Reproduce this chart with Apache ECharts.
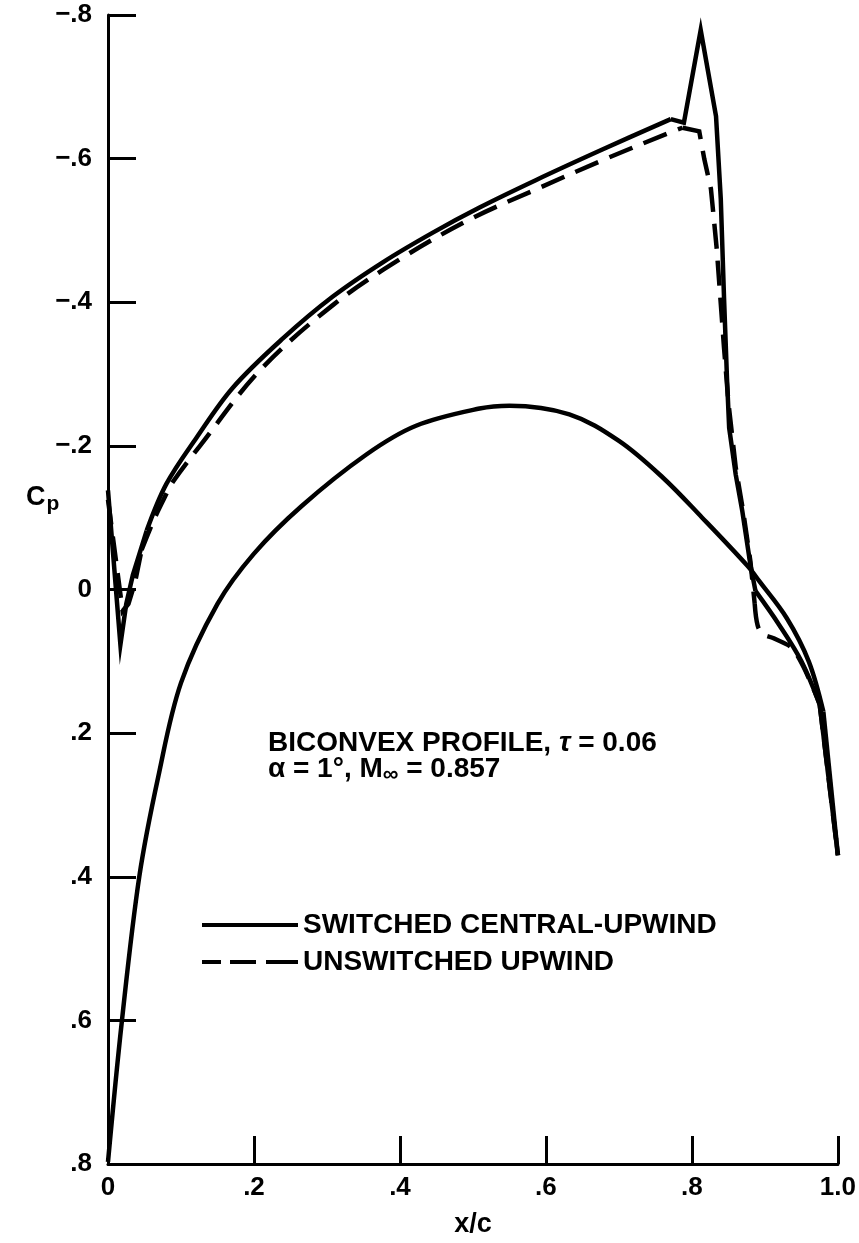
<!DOCTYPE html>
<html>
<head>
<meta charset="utf-8">
<script src="https://cdn.jsdelivr.net/npm/echarts@6/dist/echarts.min.js"></script>
<style>
html,body{margin:0;padding:0;background:#fff;}
#chart{width:859px;height:1243px;}
</style>
</head>
<body>
<div id="chart"></div>
<script>
// ---- data ----
var xTickLabels = ['0', '.2', '.4', '.6', '.8', '1.0'];
var yTickLabels = ['\u2212.8', '\u2212.6', '\u2212.4', '\u2212.2', '0', '.2', '.4', '.6', '.8'];

var seriesNames = ['SWITCHED CENTRAL-UPWIND', 'UNSWITCHED UPWIND'];

// upper surface, switched central-upwind (solid)
var upperSolidX  = [0, 0.017, 0.025, 0.034, 0.053, 0.080, 0.121, 0.171, 0.240, 0.308, 0.377, 0.445, 0.509, 0.586, 0.678, 0.771, 0.789, 0.812, 0.833, 0.8395, 0.844, 0.848, 0.851, 0.860, 0.869, 0.880, 0.887, 0.920, 0.950, 0.975, 1.0];
var upperSolidCp = [-0.138, 0.077, 0.020, -0.020, -0.082, -0.147, -0.211, -0.281, -0.350, -0.408, -0.456, -0.497, -0.532, -0.570, -0.613, -0.655, -0.650, -0.779, -0.659, -0.544, -0.405, -0.294, -0.225, -0.160, -0.109, -0.035, 0.002, 0.050, 0.100, 0.160, 0.370];
// index ranges of the smooth / straight pieces of the curve
var upperSolidPieces = [[0, 4, false], [4, 15, true], [15, 26, false], [26, 29, true], [29, 30, false]];

// upper surface, unswitched upwind (dashed)
var upperDashX  = [0, 0.020, 0.028, 0.037, 0.046, 0.062, 0.076, 0.089, 0.126, 0.208, 0.308, 0.400, 0.495, 0.586, 0.678, 0.769, 0.787, 0.810, 0.817, 0.826, 0.834, 0.844, 0.850, 0.860, 0.870, 0.880, 0.886, 0.890, 0.897, 0.912, 0.940, 0.975, 1.0];
var upperDashCp = [-0.125, 0.030, 0.020, -0.010, -0.055, -0.095, -0.125, -0.150, -0.200, -0.305, -0.396, -0.460, -0.515, -0.557, -0.598, -0.636, -0.643, -0.638, -0.599, -0.558, -0.474, -0.336, -0.260, -0.170, -0.110, -0.040, 0.020, 0.050, 0.062, 0.068, 0.085, 0.160, 0.370];
var upperDashPieces = [[0, 4, false], [4, 16, true], [16, 26, false], [26, 31, true], [31, 32, false]];

// lower surface (solid)
var lowerX  = [0, 0.0187, 0.043, 0.069, 0.100, 0.150, 0.200, 0.265, 0.354, 0.422, 0.509, 0.550, 0.632, 0.700, 0.760, 0.814, 0.876, 0.892, 0.930, 0.960, 0.980, 1.0];
var lowerCp = [0.797, 0.604, 0.399, 0.260, 0.130, 0.020, -0.050, -0.116, -0.188, -0.228, -0.252, -0.256, -0.244, -0.207, -0.156, -0.100, -0.033, -0.012, 0.040, 0.100, 0.170, 0.370];
var lowerPieces = [[0, 20, true], [20, 21, false]];

function pairs(xs, ys, a, b) {
  var out = [];
  for (var i = a; i <= b; i++) out.push([xs[i], ys[i]]);
  return out;
}

var FONT = '"Liberation Sans", Arial, Helvetica, sans-serif';
var chart = echarts.init(document.getElementById('chart'));

var series = [];
function addPieces(name, xs, ys, pieces, lineType) {
  pieces.forEach(function (p) {
    series.push({
      name: name, type: 'line', symbol: 'none', showSymbol: false,
      smooth: p[2] ? 0.35 : false,
      data: pairs(xs, ys, p[0], p[1]),
      lineStyle: { color: '#000', width: 4.5, type: lineType, cap: 'butt', join: 'miter' },
      itemStyle: { color: '#000' }
    });
  });
}
addPieces(seriesNames[0], upperSolidX, upperSolidCp, upperSolidPieces, 'solid');
addPieces(seriesNames[0], lowerX, lowerCp, lowerPieces, 'solid');
addPieces(seriesNames[1], upperDashX, upperDashCp, upperDashPieces, [25, 12]);

var option = {
  backgroundColor: '#fff',
  animation: false,
  grid: { left: 108, right: 20, top: 15, bottom: 73 },
  xAxis: {
    type: 'value', min: 0, max: 1, interval: 0.2,
    name: 'x/c', nameLocation: 'middle', nameGap: 47,
    nameTextStyle: { fontSize: 27, fontWeight: 'bold', color: '#000', fontFamily: FONT },
    axisLine: { show: true, onZero: false, lineStyle: { color: '#000', width: 3 } },
    axisTick: { show: true, inside: true, length: 28, lineStyle: { color: '#000', width: 3 } },
    axisLabel: {
      margin: 11, fontSize: 26, fontWeight: 'bold', color: '#000', fontFamily: FONT,
      formatter: function (v) { return xTickLabels[Math.round(v / 0.2)]; }
    },
    splitLine: { show: false }
  },
  yAxis: {
    type: 'value', inverse: true, min: -0.8, max: 0.8, interval: 0.2,
    axisLine: { show: true, onZero: false, lineStyle: { color: '#000', width: 3 } },
    axisTick: { show: true, inside: true, length: 28, lineStyle: { color: '#000', width: 3 } },
    axisLabel: {
      margin: 16, fontSize: 26, fontWeight: 'bold', color: '#000', fontFamily: FONT,
      formatter: function (v) { return yTickLabels[Math.round((v + 0.8) / 0.2)]; }
    },
    splitLine: { show: false }
  },
  legend: {
    orient: 'vertical', left: 197, top: 906,
    itemWidth: 96, itemHeight: 4, itemGap: 9,
    data: [
      { name: seriesNames[0], icon: 'path://M0,0H96V4H0Z' },
      { name: seriesNames[1], icon: 'path://M0,0H19V4H0Z M28,0H54V4H28Z M64,0H96V4H64Z' }
    ],
    textStyle: { fontSize: 28, fontWeight: 'bold', color: '#000', fontFamily: FONT },
    itemStyle: { color: '#000' }
  },
  graphic: [
    {
      type: 'text', left: 26, top: 484,
      style: {
        text: '{c|C}{p|p}',
        rich: {
          c: { fontSize: 27, fontWeight: 'bold', fill: '#000', fontFamily: FONT },
          p: { fontSize: 21, fontWeight: 'bold', fill: '#000', fontFamily: FONT, padding: [14, 0, 0, 1] }
        }
      }
    },
    {
      type: 'text', left: 268, top: 729,
      style: {
        text: '{a|BICONVEX PROFILE, }{i|τ}{a| = 0.06}\n{a|α = 1°, M}{s|∞}{a| = 0.857}',
        rich: {
          a: { fontSize: 28, fontWeight: 'bold', fill: '#000', fontFamily: FONT, lineHeight: 26 },
          i: { fontSize: 28, fontStyle: 'italic', fontWeight: 'bold', fill: '#000', fontFamily: FONT, lineHeight: 26 },
          s: { fontSize: 22, fontWeight: 'bold', fill: '#000', fontFamily: FONT, padding: [12, 0, 0, 0], lineHeight: 26 }
        }
      }
    }
  ],
  series: series
};
chart.setOption(option);
</script>
</body>
</html>
